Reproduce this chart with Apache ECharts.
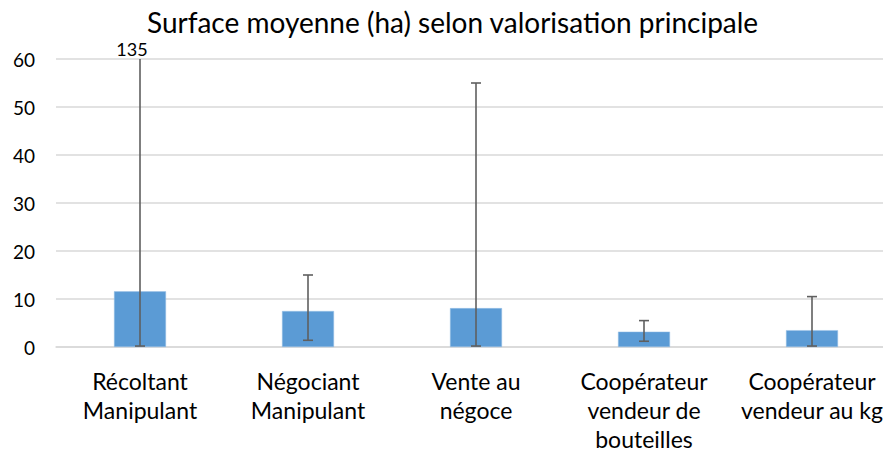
<!DOCTYPE html>
<html>
<head>
<meta charset="utf-8">
<script src="https://cdn.jsdelivr.net/npm/echarts@6/dist/echarts.min.js"></script>
<style>
html,body{margin:0;padding:0;background:#fff;overflow:hidden;width:883px;height:454px;}
#chart{width:896px;height:454px;}
</style>
</head>
<body>
<div id="chart"></div>
<script>
const title = 'Surface moyenne (ha) selon valorisation principale';
const categories = ['Récoltant\nManipulant', 'Négociant\nManipulant', 'Vente au\nnégoce', 'Coopérateur\nvendeur de\nbouteilles', 'Coopérateur\nvendeur au kg'];
const meanValues = [11.6, 7.5, 8.1, 3.2, 3.5];
const errLow = [0.2, 1.4, 0.2, 1.2, 0.2];
const errHigh = [135, 15.0, 55.0, 5.5, 10.5];
const yTicks = [0, 10, 20, 30, 40, 50, 60];

const yMin = yTicks[0], yMax = yTicks[yTicks.length - 1];
const FONT = 'Lato, "Open Sans", sans-serif';

const chart = echarts.init(document.getElementById('chart'), null, {renderer: 'svg'});
chart.setOption({
  animation: false,
  backgroundColor: '#ffffff',
  title: {
    text: title,
    left: 147,
    top: 7,
    padding: 0,
    textStyle: {fontFamily: FONT, fontSize: 28, lineHeight: 30, fontWeight: 'normal', color: '#000'}
  },
  grid: {left: 56, right: 0, top: 59, bottom: 107, containLabel: false},
  xAxis: {
    type: 'category',
    data: categories,
    axisLine: {lineStyle: {color: '#D9D9D9', width: 1.5}},
    axisTick: {show: false},
    axisLabel: {fontFamily: FONT, fontSize: 23, color: '#000', margin: 19, lineHeight: 29, interval: 0}
  },
  yAxis: {
    type: 'value',
    min: yMin, max: yMax, interval: yTicks[1] - yTicks[0],
    axisLine: {show: false},
    axisTick: {show: false},
    splitLine: {lineStyle: {color: '#D9D9D9', width: 1.5}},
    axisLabel: {fontFamily: FONT, fontSize: 19, color: '#000', margin: 21}
  },
  series: [
    {
      type: 'bar',
      data: meanValues,
      barWidth: 52,
      itemStyle: {color: '#5B9BD5', borderColor: '#9DC3E6', borderWidth: 0.5}
    },
    {
      type: 'custom',
      clip: false,
      z: 5,
      data: categories.map((c, i) => [i, errLow[i], errHigh[i]]),
      encode: {x: 0, y: [1, 2]},
      renderItem: function (params, api) {
        const x = api.value(0), lo = api.value(1), hi = api.value(2);
        const clipped = hi > yMax;
        const pLo = api.coord([x, lo]);
        const pHi = api.coord([x, clipped ? yMax : hi]);
        const cap = 5;
        const style = {stroke: '#5F5F5F', lineWidth: 1.6};
        const children = [
          {type: 'line', shape: {x1: pLo[0], y1: pLo[1], x2: pHi[0], y2: pHi[1]}, style: style},
          {type: 'line', shape: {x1: pLo[0] - cap, y1: pLo[1], x2: pLo[0] + cap, y2: pLo[1]}, style: style}
        ];
        if (!clipped) {
          children.push({type: 'line', shape: {x1: pHi[0] - cap, y1: pHi[1], x2: pHi[0] + cap, y2: pHi[1]}, style: style});
        } else {
          children.push({type: 'text', x: pHi[0] - 8, y: pHi[1] - 1,
            style: {text: String(hi), fontFamily: FONT, fontSize: 18, lineHeight: 18, fill: '#000', align: 'center', verticalAlign: 'bottom'}});
        }
        return {type: 'group', children: children};
      }
    }
  ]
});
</script>
</body>
</html>
